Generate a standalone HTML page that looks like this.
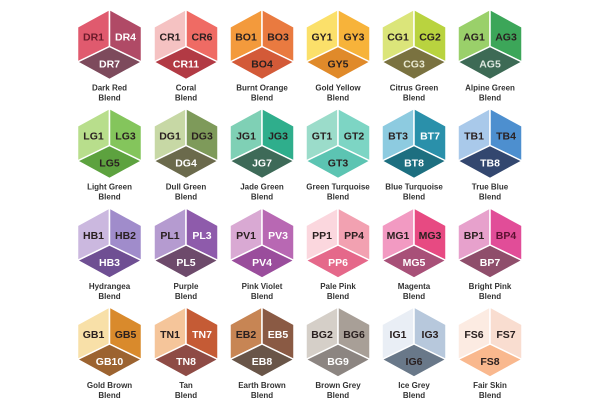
<!DOCTYPE html>
<html><head><meta charset="utf-8"><style>
html,body{margin:0;padding:0;background:#fff;}
svg{display:block;}
.c{font-family:"Liberation Sans",sans-serif;font-size:10.5px;font-weight:600;text-anchor:middle;}
.l{font-family:"Liberation Sans",sans-serif;font-size:8px;font-weight:600;text-anchor:middle;fill:#333;}
.d{fill:#2a2020;} .w{fill:#fff;}
polygon{stroke:#fff;stroke-width:1.5;stroke-linejoin:round;}
</style></head><body>
<svg width="600" height="412" viewBox="0 0 600 412" xmlns="http://www.w3.org/2000/svg">
<defs>
<polygon id="L" points="0,-35 -32,-17.5 -32,17.5 0,2"/>
<polygon id="R" points="0,-35 32,-17.5 32,17.5 0,2"/>
<polygon id="B" points="0,2 32,17.5 0,35 -32,17.5"/>
</defs>
<!-- Row 1 -->
<g transform="translate(109.5,44.5)"><use href="#L" fill="#e05a6e"/><use href="#R" fill="#b04a66"/><use href="#B" fill="#7d4a5c"/>
<text class="c" x="-16" y="-4" fill="#6a1a2a">DR1</text><text class="c w" x="16" y="-4">DR4</text><text class="c w" x="0" y="23">DR7</text>
<text class="l" y="46">Dark Red</text><text class="l" y="56">Blend</text></g>
<g transform="translate(186,44.5)"><use href="#L" fill="#f5c2c2"/><use href="#R" fill="#ef6b64"/><use href="#B" fill="#b23a44"/>
<text class="c d" x="-16" y="-4">CR1</text><text class="c d" x="16" y="-4">CR6</text><text class="c w" x="0" y="23">CR11</text>
<text class="l" y="46">Coral</text><text class="l" y="56">Blend</text></g>
<g transform="translate(262,44.5)"><use href="#L" fill="#f39a3c"/><use href="#R" fill="#e97a40"/><use href="#B" fill="#d35a38"/>
<text class="c d" x="-16" y="-4">BO1</text><text class="c d" x="16" y="-4">BO3</text><text class="c d" x="0" y="23">BO4</text>
<text class="l" y="46">Burnt Orange</text><text class="l" y="56">Blend</text></g>
<g transform="translate(338,44.5)"><use href="#L" fill="#fbe06a"/><use href="#R" fill="#f7b33a"/><use href="#B" fill="#e08a2a"/>
<text class="c d" x="-16" y="-4">GY1</text><text class="c d" x="16" y="-4">GY3</text><text class="c d" x="0" y="23">GY5</text>
<text class="l" y="46">Gold Yellow</text><text class="l" y="56">Blend</text></g>
<g transform="translate(414,44.5)"><use href="#L" fill="#dbe57a"/><use href="#R" fill="#b9d33f"/><use href="#B" fill="#7a7240"/>
<text class="c d" x="-16" y="-4">CG1</text><text class="c d" x="16" y="-4">CG2</text><text class="c" x="0" y="23" fill="#e8e8d0">CG3</text>
<text class="l" y="46">Citrus Green</text><text class="l" y="56">Blend</text></g>
<g transform="translate(490,44.5)"><use href="#L" fill="#9ad06a"/><use href="#R" fill="#3ca659"/><use href="#B" fill="#3d6a55"/>
<text class="c d" x="-16" y="-4">AG1</text><text class="c d" x="16" y="-4">AG3</text><text class="c" x="0" y="23" fill="#dde8e0">AG5</text>
<text class="l" y="46">Alpine Green</text><text class="l" y="56">Blend</text></g>
<!-- Row 2 -->
<g transform="translate(109.5,143.5)"><use href="#L" fill="#b8de8c"/><use href="#R" fill="#84c55c"/><use href="#B" fill="#5da23f"/>
<text class="c d" x="-16" y="-4">LG1</text><text class="c d" x="16" y="-4">LG3</text><text class="c d" x="0" y="23">LG5</text>
<text class="l" y="46">Light Green</text><text class="l" y="56">Blend</text></g>
<g transform="translate(186,143.5)"><use href="#L" fill="#c7d8a5"/><use href="#R" fill="#7e9a5a"/><use href="#B" fill="#6b6a4c"/>
<text class="c d" x="-16" y="-4">DG1</text><text class="c d" x="16" y="-4">DG3</text><text class="c w" x="0" y="23">DG4</text>
<text class="l" y="46">Dull Green</text><text class="l" y="56">Blend</text></g>
<g transform="translate(262,143.5)"><use href="#L" fill="#7fd0b5"/><use href="#R" fill="#2fae8c"/><use href="#B" fill="#3e6a58"/>
<text class="c d" x="-16" y="-4">JG1</text><text class="c d" x="16" y="-4">JG3</text><text class="c w" x="0" y="23">JG7</text>
<text class="l" y="46">Jade Green</text><text class="l" y="56">Blend</text></g>
<g transform="translate(338,143.5)"><use href="#L" fill="#9bdcca"/><use href="#R" fill="#7dd5c4"/><use href="#B" fill="#5cc4b2"/>
<text class="c d" x="-16" y="-4">GT1</text><text class="c d" x="16" y="-4">GT2</text><text class="c d" x="0" y="23">GT3</text>
<text class="l" y="46">Green Turquoise</text><text class="l" y="56">Blend</text></g>
<g transform="translate(414,143.5)"><use href="#L" fill="#8dcbe0"/><use href="#R" fill="#2a90aa"/><use href="#B" fill="#1d6f80"/>
<text class="c d" x="-16" y="-4">BT3</text><text class="c w" x="16" y="-4">BT7</text><text class="c w" x="0" y="23">BT8</text>
<text class="l" y="46">Blue Turquoise</text><text class="l" y="56">Blend</text></g>
<g transform="translate(490,143.5)"><use href="#L" fill="#a9c9ea"/><use href="#R" fill="#4d8fcf"/><use href="#B" fill="#33476f"/>
<text class="c d" x="-16" y="-4">TB1</text><text class="c d" x="16" y="-4">TB4</text><text class="c w" x="0" y="23">TB8</text>
<text class="l" y="46">True Blue</text><text class="l" y="56">Blend</text></g>
<!-- Row 3 -->
<g transform="translate(109.5,243)"><use href="#L" fill="#cbb8df"/><use href="#R" fill="#a08ccb"/><use href="#B" fill="#6f4f93"/>
<text class="c d" x="-16" y="-4">HB1</text><text class="c d" x="16" y="-4">HB2</text><text class="c w" x="0" y="23">HB3</text>
<text class="l" y="46">Hydrangea</text><text class="l" y="56">Blend</text></g>
<g transform="translate(186,243)"><use href="#L" fill="#b59bd0"/><use href="#R" fill="#8e5bab"/><use href="#B" fill="#6d4a6b"/>
<text class="c d" x="-16" y="-4">PL1</text><text class="c w" x="16" y="-4">PL3</text><text class="c w" x="0" y="23">PL5</text>
<text class="l" y="46">Purple</text><text class="l" y="56">Blend</text></g>
<g transform="translate(262,243)"><use href="#L" fill="#d9a9d3"/><use href="#R" fill="#b868b3"/><use href="#B" fill="#9a4d9c"/>
<text class="c d" x="-16" y="-4">PV1</text><text class="c w" x="16" y="-4">PV3</text><text class="c w" x="0" y="23">PV4</text>
<text class="l" y="46">Pink Violet</text><text class="l" y="56">Blend</text></g>
<g transform="translate(338,243)"><use href="#L" fill="#fbd7de"/><use href="#R" fill="#f2a1b1"/><use href="#B" fill="#e5688a"/>
<text class="c d" x="-16" y="-4">PP1</text><text class="c d" x="16" y="-4">PP4</text><text class="c w" x="0" y="23">PP6</text>
<text class="l" y="46">Pale Pink</text><text class="l" y="56">Blend</text></g>
<g transform="translate(414,243)"><use href="#L" fill="#f29ac2"/><use href="#R" fill="#e74a82"/><use href="#B" fill="#a85078"/>
<text class="c d" x="-16" y="-4">MG1</text><text class="c d" x="16" y="-4">MG3</text><text class="c w" x="0" y="23">MG5</text>
<text class="l" y="46">Magenta</text><text class="l" y="56">Blend</text></g>
<g transform="translate(490,243)"><use href="#L" fill="#e7a1cc"/><use href="#R" fill="#e14d98"/><use href="#B" fill="#8f4e6b"/>
<text class="c d" x="-16" y="-4">BP1</text><text class="c" x="16" y="-4" fill="#5a1030">BP4</text><text class="c w" x="0" y="23">BP7</text>
<text class="l" y="46">Bright Pink</text><text class="l" y="56">Blend</text></g>
<!-- Row 4 -->
<g transform="translate(109.5,342)"><use href="#L" fill="#f8e0a8"/><use href="#R" fill="#d98a2c"/><use href="#B" fill="#9c6330"/>
<text class="c d" x="-16" y="-4">GB1</text><text class="c d" x="16" y="-4">GB5</text><text class="c w" x="0" y="23">GB10</text>
<text class="l" y="46">Gold Brown</text><text class="l" y="56">Blend</text></g>
<g transform="translate(186,342)"><use href="#L" fill="#f5c59a"/><use href="#R" fill="#c55b35"/><use href="#B" fill="#8e4b45"/>
<text class="c d" x="-16" y="-4">TN1</text><text class="c w" x="16" y="-4">TN7</text><text class="c w" x="0" y="23">TN8</text>
<text class="l" y="46">Tan</text><text class="l" y="56">Blend</text></g>
<g transform="translate(262,342)"><use href="#L" fill="#c78554"/><use href="#R" fill="#8a5a44"/><use href="#B" fill="#695548"/>
<text class="c d" x="-16" y="-4">EB2</text><text class="c w" x="16" y="-4">EB5</text><text class="c w" x="0" y="23">EB8</text>
<text class="l" y="46">Earth Brown</text><text class="l" y="56">Blend</text></g>
<g transform="translate(338,342)"><use href="#L" fill="#d5cfc8"/><use href="#R" fill="#a89f97"/><use href="#B" fill="#8c8581"/>
<text class="c d" x="-16" y="-4">BG2</text><text class="c d" x="16" y="-4">BG6</text><text class="c w" x="0" y="23">BG9</text>
<text class="l" y="46">Brown Grey</text><text class="l" y="56">Blend</text></g>
<g transform="translate(414,342)"><use href="#L" fill="#e9eef5"/><use href="#R" fill="#b7c8dc"/><use href="#B" fill="#697889"/>
<text class="c d" x="-16" y="-4">IG1</text><text class="c d" x="16" y="-4">IG3</text><text class="c d" x="0" y="23">IG6</text>
<text class="l" y="46">Ice Grey</text><text class="l" y="56">Blend</text></g>
<g transform="translate(490,342)"><use href="#L" fill="#fcebe2"/><use href="#R" fill="#f9ddd0"/><use href="#B" fill="#f9b88e"/>
<text class="c d" x="-16" y="-4">FS6</text><text class="c d" x="16" y="-4">FS7</text><text class="c d" x="0" y="23">FS8</text>
<text class="l" y="46">Fair Skin</text><text class="l" y="56">Blend</text></g>
</svg>
</body></html>
